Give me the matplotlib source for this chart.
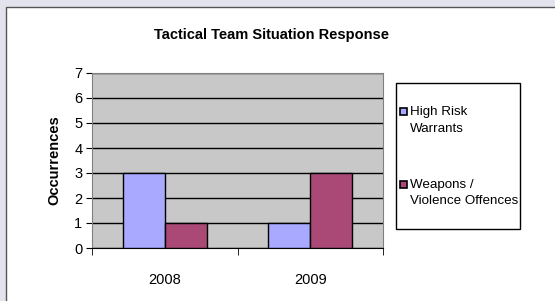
import matplotlib
matplotlib.use("Agg")
import matplotlib.pyplot as plt
from matplotlib.patches import Rectangle
import numpy as np

plt.rcParams['font.family'] = ['Liberation Sans', 'DejaVu Sans']

years = ["2008", "2009"]
series_names = ["High Risk\nWarrants", "Weapons /\nViolence Offences"]
high_risk = [3, 1]
weapons = [1, 3]
colors = ["#A9A9FF", "#AA4876"]

W, H = 555, 301
fig = plt.figure(figsize=(W / 100, H / 100), dpi=100)
fig.patch.set_facecolor("#E3E3EE")

# white chart frame
fig.patches.append(Rectangle((6 / W, -0.1), 1.1, (H - 7) / H + 0.1,
                             transform=fig.transFigure, facecolor="white",
                             edgecolor="#555555", linewidth=1, zorder=-10))

ax = fig.add_axes([92 / W, (H - 248) / H, 291 / W, 175 / H])
ax.set_facecolor("#C8C8C8")

x = np.arange(len(years))
bw = 0.289
ax.bar(x - bw / 2, high_risk, bw, color=colors[0], edgecolor="black", linewidth=1, zorder=3)
ax.bar(x + bw / 2, weapons, bw, color=colors[1], edgecolor="black", linewidth=1, zorder=3)

ax.set_xlim(-0.5, 1.5)
ax.set_ylim(0, 7)
ax.set_yticks(range(0, 8))
ax.yaxis.grid(True, color="black", linewidth=1, zorder=1)
ax.set_axisbelow(True)

ax.set_xticks(x)
ax.set_xticklabels(years, fontsize=10.5)
ax.set_xticks([-0.5, 0.5, 1.5], minor=True)
ax.tick_params(axis="x", which="major", length=0, pad=18)
ax.tick_params(axis="x", which="minor", length=5, color="black")
ax.tick_params(axis="y", length=4, color="black", labelsize=10.5, pad=3)

for s in ["top", "right", "left"]:
    ax.spines[s].set_color("#808080")
ax.spines["bottom"].set_color("black")

ax.set_ylabel("Occurrences", fontsize=10.5, fontweight="bold", labelpad=9)

fig.text(271 / W, 1 - 35 / H, "Tactical Team Situation Response",
         ha="center", va="center", fontsize=10.5, fontweight="bold")

# legend box, drawn by hand so each swatch sits on the first text line
fig.patches.append(Rectangle((396 / W, 1 - 229 / H), 124 / W, 146 / H,
                             transform=fig.transFigure, facecolor="white",
                             edgecolor="black", linewidth=1, zorder=-5))
for i, (name, c) in enumerate(zip(series_names, colors)):
    y_top = 1 - (106 + 73 * i) / H
    fig.patches.append(Rectangle((400 / W, 1 - (115 + 73 * i) / H), 7 / W, 7 / H,
                                 transform=fig.transFigure, facecolor=c,
                                 edgecolor="black", linewidth=1.2))
    fig.text(410 / W, y_top, name, ha="left", va="top", fontsize=9.6,
             linespacing=1.5)

fig.savefig("out.png", dpi=100, facecolor=fig.get_facecolor())
